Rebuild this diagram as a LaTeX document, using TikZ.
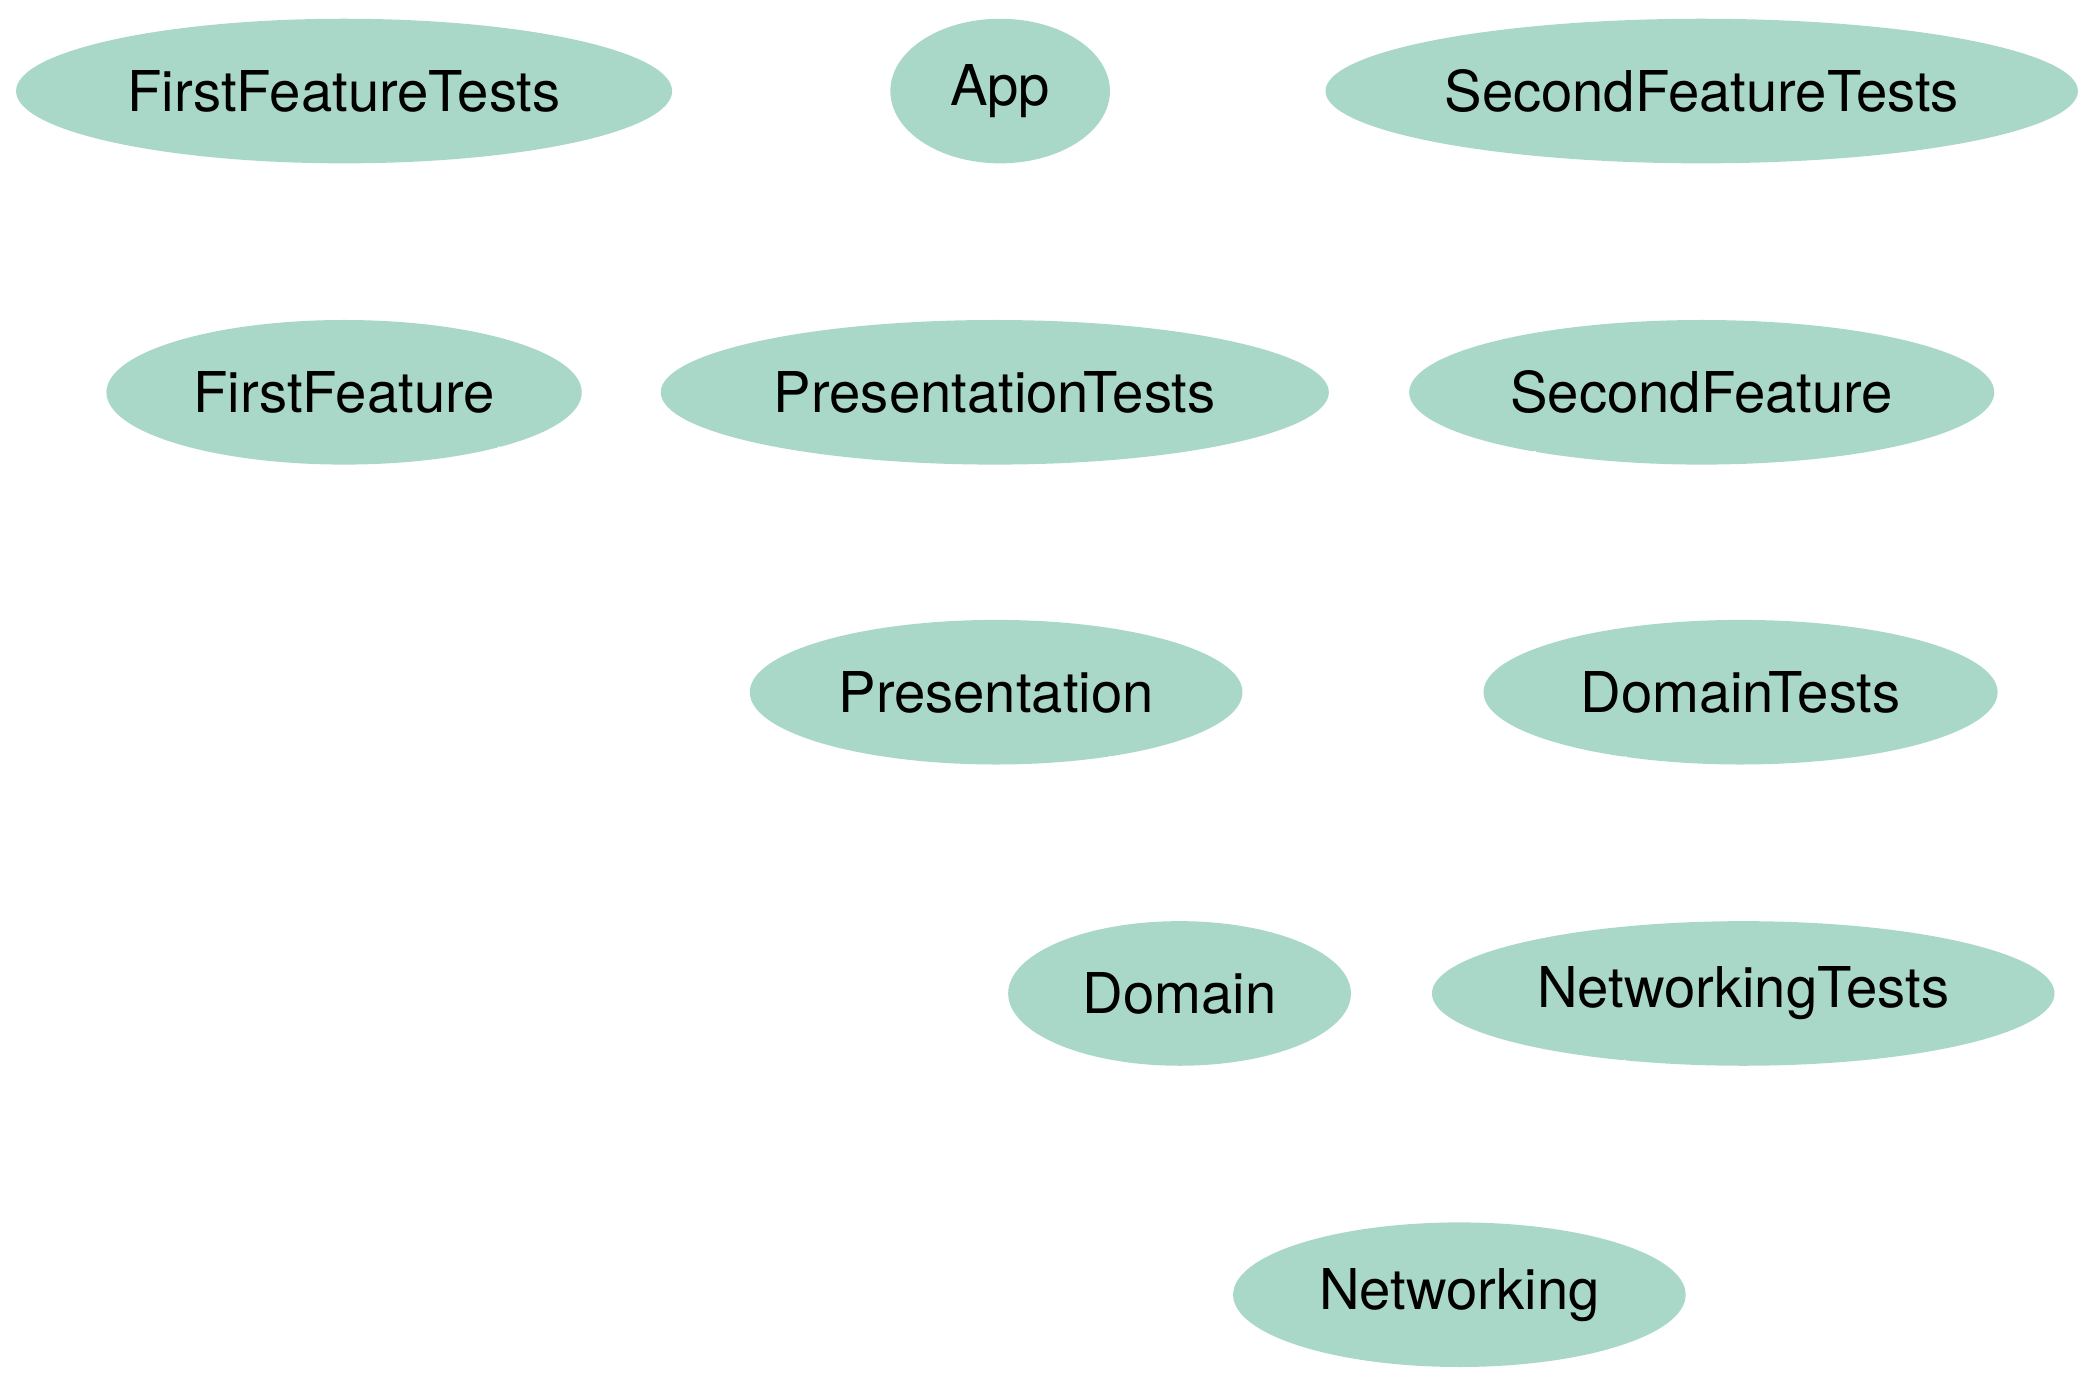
\documentclass[tikz,border=0pt]{standalone}
\usepackage{fontspec}
\setmainfont{TeX Gyre Heros}
\usetikzlibrary{shapes.geometric,arrows.meta}
\definecolor{nodefill}{HTML}{A9D8C9}
\newlength{\gu}
\setlength{\gu}{0.3333pt}
\tikzset{
  mod/.style={ellipse, fill=nodefill, draw=none, inner sep=0pt,
    minimum height=108\gu, font=\fontsize{14pt}{16pt}\selectfont},
  dep/.style={draw=white, line width=1pt, -{Stealth[length=3.3pt,width=2.6pt]}}
}
\begin{document}
\begin{tikzpicture}[x=\gu, y=-\gu]
\useasboundingbox (0,0) rectangle (1564,1033);
\node[mod, minimum width=490\gu] (fft) at (257,68) {FirstFeatureTests};
\node[mod, minimum width=164\gu] (app) at (747,68) {App};
\node[mod, minimum width=562\gu] (sft) at (1271,68) {SecondFeatureTests};
\node[mod, minimum width=355\gu] (ff) at (257,293) {FirstFeature};
\node[mod, minimum width=499\gu] (pt) at (743,293) {PresentationTests};
\node[mod, minimum width=437\gu] (sf) at (1271,293) {SecondFeature};
\node[mod, minimum width=368\gu] (pr) at (744,517) {Presentation};
\node[mod, minimum width=384\gu] (dt) at (1300,517) {DomainTests};
\node[mod, minimum width=256\gu] (dom) at (881,742) {Domain};
\node[mod, minimum width=465\gu] (nt) at (1302,742) {NetworkingTests};
\node[mod, minimum width=338\gu] (net) at (1090,967) {Networking};
\draw[dep] (fft) -- (ff);
\draw[dep] (sft) -- (sf);
\draw[dep] (ff) to[out=-20, in=160] (pr.north west);
\draw[dep] (pt) -- (pr);
\draw[dep] (sf) to[out=200, in=20] (pr.north east);
\draw[dep] (pr) to[out=-30, in=115] (dom.north west);
\draw[dep] (sf) to[out=240, in=95] (dom.north);
\draw[dep] (dt) to[out=210, in=60] (dom.north east);
\draw[dep] (dom) to[out=-30, in=110] (net.north west);
\draw[dep] (nt) to[out=210, in=70] (net.north east);
\end{tikzpicture}
\end{document}
